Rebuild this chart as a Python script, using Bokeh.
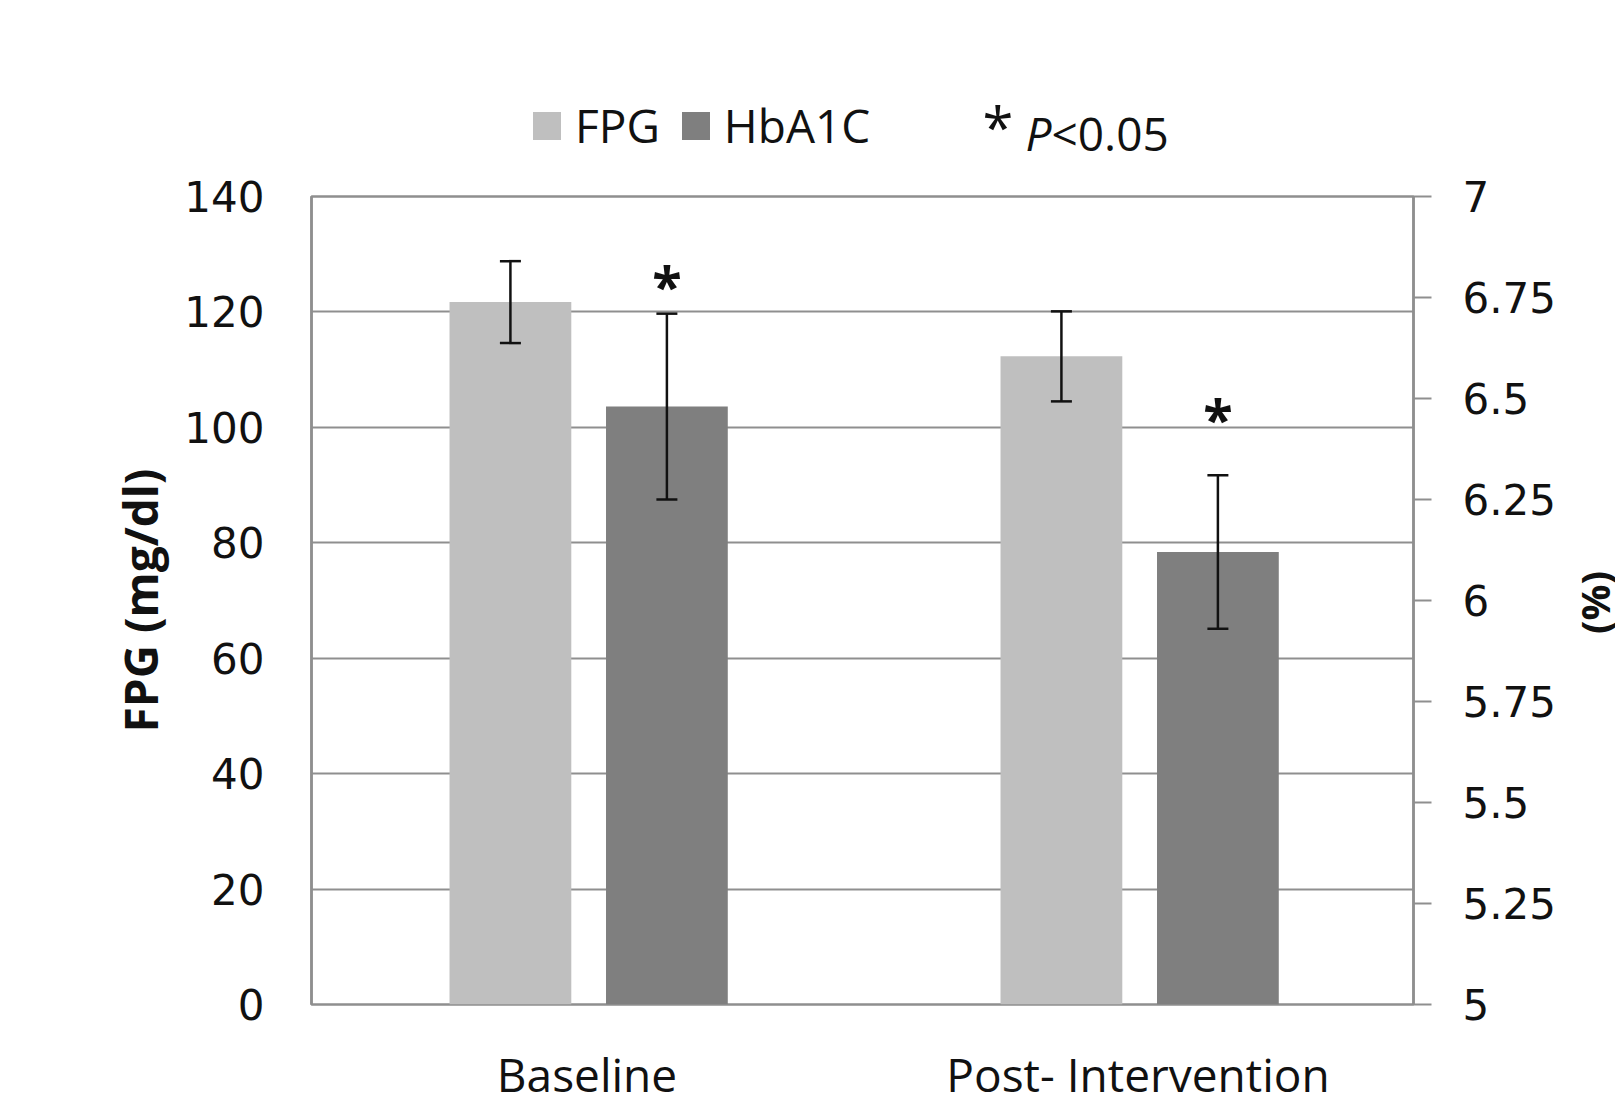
import math
from bokeh.plotting import figure
from bokeh.layouts import column, row
from bokeh.models import (FactorRange, Range1d, LinearAxis, FixedTicker, NumeralTickFormatter,
                          Whisker, TeeHead, ColumnDataSource, Legend, LegendItem, Plot)
from bokeh.transform import dodge
from bokeh.core.properties import value
from bokeh.embed import file_html
from bokeh.resources import INLINE

# ---------------- data ----------------
categories = ["Baseline", "Post- Intervention"]
series_names = ["FPG", "HbA1C"]
fpg_mean = [121.7, 112.3]
fpg_sd = [7.1, 7.8]
hba1c_mean = [6.48, 6.12]
hba1c_sd = [0.23, 0.19]
sig_marks = ["*", "*"]
sig_y = [6.782, 6.452]
left_ticks = [0, 20, 40, 60, 80, 100, 120, 140]
right_ticks = [5, 5.25, 5.5, 5.75, 6, 6.25, 6.5, 6.75, 7]
y_title = "FPG (mg/dl)"
right_title = "(%)"
note_star = "*"
note_p = "P"
note_rest = "<0.05"

# ---------------- styles ----------------
FPG_COLOR = "#bfbfbf"
HB_COLOR = "#7f7f7f"
AXIS_GRAY = "#8f8f8f"
TXT = "#111111"
CAL = "Open Sans"
TICKF = "DejaVu Sans"

HAS_FA = "frame_align" in Plot.properties()

PAGE_W, PAGE_H = 1615, 1094
TOP_H = 166
FRAME_L, FRAME_W, FRAME_H = 311, 1102, 808
FRAME_R_PAGE = PAGE_W - FRAME_L - FRAME_W          # 202
MAIN_T, MAIN_B = 30, 30
MAIN_R = 160 if HAS_FA else FRAME_R_PAGE
MAIN_W = FRAME_L + FRAME_W + MAIN_R
MAIN_H = MAIN_T + FRAME_H + MAIN_B
RIGHT_W = PAGE_W - MAIN_W
BOT_H = PAGE_H - TOP_H - MAIN_H


def no_align(f):
    if HAS_FA:
        f.frame_align = False
    return f


src = ColumnDataSource(dict(
    cat=categories,
    fpg=fpg_mean,
    fpg_lo=[m - s for m, s in zip(fpg_mean, fpg_sd)],
    fpg_hi=[m + s for m, s in zip(fpg_mean, fpg_sd)],
    hb=hba1c_mean,
    hb_lo=[m - s for m, s in zip(hba1c_mean, hba1c_sd)],
    hb_hi=[m + s for m, s in zip(hba1c_mean, hba1c_sd)],
    sig=sig_y,
    star=sig_marks,
))

# ---------------- main chart ----------------
p = figure(width=MAIN_W, height=MAIN_H, x_range=FactorRange(factors=categories, range_padding=0),
           y_range=Range1d(0, 140), output_backend="svg", toolbar_location=None,
           min_border_left=FRAME_L, min_border_right=MAIN_R, min_border_top=MAIN_T,
           min_border_bottom=MAIN_B)
no_align(p)
p.extra_y_ranges = {"hb": Range1d(5, 7)}

p.outline_line_color = AXIS_GRAY
p.outline_line_width = 2.5
p.xaxis.visible = False
p.xgrid.visible = False

yax = p.yaxis[0]
yax.ticker = FixedTicker(ticks=left_ticks)
yax.major_tick_out = 0
yax.major_tick_in = 0
yax.minor_tick_out = 0
yax.minor_tick_in = 0
yax.axis_line_color = AXIS_GRAY
yax.axis_line_width = 2.5
yax.major_label_text_font = TICKF
yax.major_label_text_font_size = "42px"
yax.major_label_text_color = TXT
yax.major_label_standoff = 47
yax.axis_label = y_title
yax.axis_label_text_font = CAL
yax.axis_label_text_font_style = "bold"
yax.axis_label_text_font_size = "46px"
yax.axis_label_text_color = TXT
yax.axis_label_standoff = 10

p.ygrid.ticker = FixedTicker(ticks=left_ticks)
p.ygrid.grid_line_color = AXIS_GRAY
p.ygrid.grid_line_width = 2

rax = LinearAxis(y_range_name="hb", ticker=FixedTicker(ticks=right_ticks),
                 formatter=NumeralTickFormatter(format="0.[00]"))
rax.major_tick_out = 18
rax.major_tick_in = 0
rax.minor_tick_out = 0
rax.minor_tick_in = 0
rax.axis_line_color = AXIS_GRAY
rax.axis_line_width = 2.5
rax.major_tick_line_color = AXIS_GRAY
rax.major_tick_line_width = 2
rax.major_label_text_font = TICKF
rax.major_label_text_font_size = "42px"
rax.major_label_text_color = TXT
rax.major_label_standoff = 31
if not HAS_FA:
    rax.axis_label = right_title
    rax.axis_label_text_font = CAL
    rax.axis_label_text_font_style = "bold"
    rax.axis_label_text_font_size = "38px"
    rax.axis_label_text_color = TXT
    rax.axis_label_standoff = 2
p.add_layout(rax, "right")

BW = 0.221
OFF_F = -0.139
OFF_H = 0.145
p.vbar(x=dodge("cat", OFF_F, range=p.x_range), top="fpg", bottom=0, width=BW,
       source=src, fill_color=FPG_COLOR, line_color=None)
p.vbar(x=dodge("cat", OFF_H, range=p.x_range), top="hb", bottom=5, width=BW,
       source=src, fill_color=HB_COLOR, line_color=None, y_range_name="hb")


def tee():
    return TeeHead(size=21, line_width=2.5, line_color=TXT)


w1 = Whisker(base=dodge("cat", OFF_F, range=p.x_range), upper="fpg_hi", lower="fpg_lo",
             source=src, line_width=2.5, line_color=TXT, upper_head=tee(), lower_head=tee(),
             level="annotation")
w2 = Whisker(base=dodge("cat", OFF_H, range=p.x_range), upper="hb_hi", lower="hb_lo",
             source=src, line_width=2.5, line_color=TXT, upper_head=tee(), lower_head=tee(),
             y_range_name="hb", level="annotation")
p.add_layout(w1)
p.add_layout(w2)

p.text(x=dodge("cat", OFF_H, range=p.x_range), y="sig", text="star", source=src,
       y_range_name="hb", text_font=value(CAL), text_font_size="54px", text_font_style="bold",
       text_align="center", text_baseline="middle", text_color=TXT)

# ---------------- top strip: legend and note (data units = page pixels) ----------------
top = figure(width=PAGE_W, height=TOP_H, x_range=Range1d(FRAME_L, FRAME_L + FRAME_W),
             y_range=Range1d(TOP_H, 0), output_backend="svg", toolbar_location=None,
             x_axis_location=None, y_axis_location=None,
             min_border_left=FRAME_L, min_border_right=FRAME_R_PAGE,
             min_border_top=0, min_border_bottom=0)
no_align(top)
top.outline_line_color = None
top.xgrid.visible = False
top.ygrid.visible = False
d1 = top.vbar(x=[0], top=[0], bottom=[0], width=0, fill_color=FPG_COLOR, line_color=None)
d2 = top.vbar(x=[0], top=[0], bottom=[0], width=0, fill_color=HB_COLOR, line_color=None)
legend = Legend(items=[LegendItem(label=series_names[0], renderers=[d1]),
                       LegendItem(label=series_names[1], renderers=[d2])],
                location=(529 - FRAME_L, 10), orientation="horizontal",
                glyph_width=35, glyph_height=35, label_height=46,
                label_text_font=CAL, label_text_font_size="46px", label_text_color=TXT,
                label_standoff=11, spacing=18, padding=0, margin=0,
                border_line_color=None, background_fill_alpha=0)
top.add_layout(legend)
top.text(x=[982], y=[125], text=[note_star], text_font=value(CAL), text_font_size="56px",
         text_align="left", text_baseline="middle", text_color=TXT)
top.text(x=[1025], y=[132], text=[note_p], text_font=value(CAL), text_font_size="46px",
         text_font_style="italic", text_align="left", text_baseline="middle", text_color=TXT)
top.text(x=[1051], y=[132], text=[note_rest], text_font=value(CAL), text_font_size="46px",
         text_align="left", text_baseline="middle", text_color=TXT)

# ---------------- bottom strip: category labels ----------------
bot = figure(width=PAGE_W, height=BOT_H, x_range=p.x_range, y_range=Range1d(BOT_H, 0),
             output_backend="svg", toolbar_location=None, x_axis_location=None,
             y_axis_location=None, min_border_left=FRAME_L,
             min_border_right=FRAME_R_PAGE, min_border_top=0, min_border_bottom=0)
no_align(bot)
bot.outline_line_color = None
bot.xgrid.visible = False
bot.ygrid.visible = False
bot.text(x="cat", y=39, text="cat", source=src, text_font=value(CAL),
         text_font_size="46px", text_align="center", text_baseline="middle", text_color=TXT)

if HAS_FA:
    # ---------------- right strip: secondary axis title ----------------
    right = figure(width=RIGHT_W, height=MAIN_H, x_range=Range1d(0, RIGHT_W),
                   y_range=Range1d(MAIN_H, 0), output_backend="svg", toolbar_location=None,
                   x_axis_location=None, y_axis_location=None, min_border=0)
    no_align(right)
    right.outline_line_color = None
    right.xgrid.visible = False
    right.ygrid.visible = False
    right.text(x=[21], y=[436], text=[right_title], angle=math.pi / 2, text_font=value(CAL),
               text_font_size="40px", text_font_style="bold", text_align="center",
               text_baseline="middle", text_color=TXT)
    middle = row(p, right)
else:
    middle = p

layout = column(top, middle, bot)
open("out.html", "w").write(file_html(layout, INLINE))
